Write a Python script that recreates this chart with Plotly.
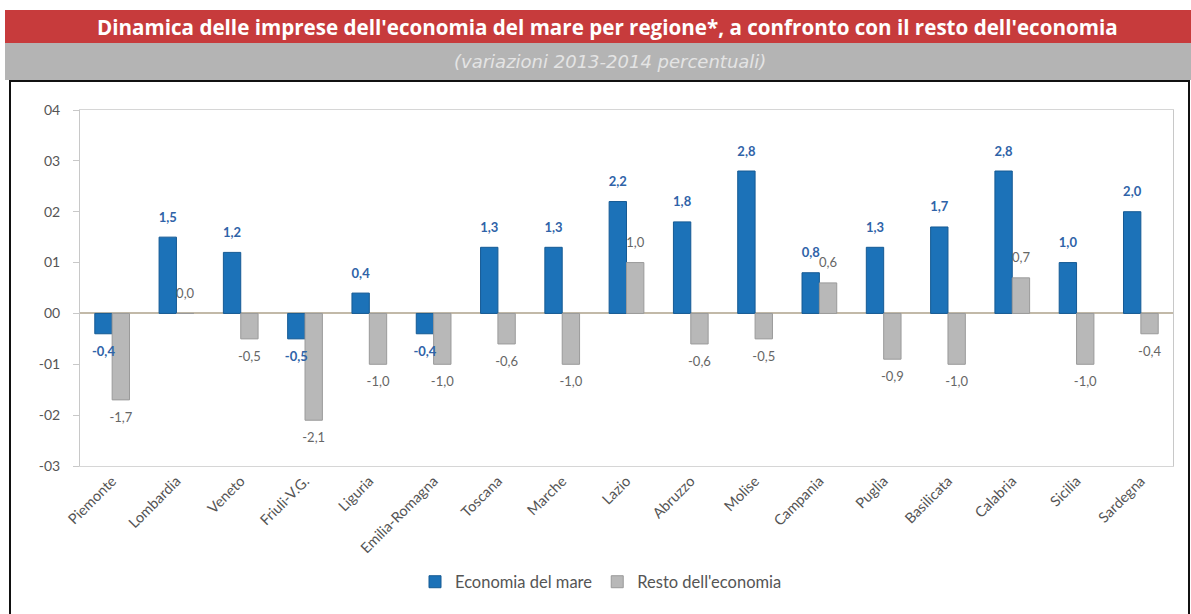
import plotly.graph_objects as go

regioni = ["Piemonte", "Lombardia", "Veneto", "Friuli-V.G.", "Liguria", "Emilia-Romagna",
           "Toscana", "Marche", "Lazio", "Abruzzo", "Molise", "Campania", "Puglia",
           "Basilicata", "Calabria", "Sicilia", "Sardegna"]
economia_mare = [-0.4, 1.5, 1.2, -0.5, 0.4, -0.4, 1.3, 1.3, 2.2, 1.8, 2.8, 0.8, 1.3, 1.7, 2.8, 1.0, 2.0]
resto_economia = [-1.7, 0.0, -0.5, -2.1, -1.0, -1.0, -0.6, -1.0, 1.0, -0.6, -0.5, 0.6, -0.9, -1.0, 0.7, -1.0, -0.4]
y_tickvals = [-3, -2, -1, 0, 1, 2, 3, 4]
y_ticktext = ["-03", "-02", "-01", "00", "01", "02", "03", "04"]


def fmt(v):
    return f"{v:.1f}".replace(".", ",")


def pos(v):
    return "bottom center" if v < 0 else "top center"


W, H = 1191, 614
L, R, T, B = 80, 18, 110, 148
pw = W - L - R
ph = H - T - B


def px_x(x):
    return (x - L) / pw


def px_y(y):
    return (H - B - y) / ph


BLUE_TXT = "#2f63a8"
GRAY_TXT = "#666666"

fig = go.Figure()
fig.add_trace(go.Bar(
    x=regioni, y=economia_mare, name="Economia del mare",
    marker=dict(color="#1c72b8", line=dict(color="#155a94", width=1)),
))
fig.add_trace(go.Bar(
    x=regioni, y=resto_economia, name="Resto dell'economia",
    marker=dict(color="#b8b8b8", line=dict(color="#9a9a9a", width=1)),
))
# data labels, grouped so they sit over their own bars
fig.add_trace(go.Scatter(
    x=regioni, y=economia_mare, mode="markers+text", showlegend=False, hoverinfo="skip",
    marker=dict(size=18, color="rgba(0,0,0,0)"),
    text=[fmt(v) for v in economia_mare], textposition=[pos(v) for v in economia_mare],
    textfont=dict(color=BLUE_TXT, size=13, family="Lato", weight="bold"),
    cliponaxis=False,
))
fig.add_trace(go.Scatter(
    x=regioni, y=resto_economia, mode="markers+text", showlegend=False, hoverinfo="skip",
    marker=dict(size=18, color="rgba(0,0,0,0)"),
    text=[fmt(v) for v in resto_economia], textposition=[pos(v) for v in resto_economia],
    textfont=dict(color=GRAY_TXT, size=13, family="Lato"),
    cliponaxis=False,
))

shapes = [
    dict(type="rect", xref="paper", yref="paper", x0=px_x(5), x1=px_x(1191), y0=px_y(43), y1=px_y(10),
         fillcolor="#c73b3c", line=dict(width=0), layer="below"),
    dict(type="rect", xref="paper", yref="paper", x0=px_x(5), x1=px_x(1191), y0=px_y(80), y1=px_y(43),
         fillcolor="#b4b4b4", line=dict(width=0), layer="below"),
    dict(type="rect", xref="paper", yref="paper", x0=px_x(10), x1=px_x(1189), y0=px_y(625), y1=px_y(81),
         fillcolor="rgba(0,0,0,0)", line=dict(color="#111111", width=2), layer="below"),
]

annotations = [
    dict(text="<b>Dinamica delle imprese dell'economia del mare per regione*, a confronto con il resto dell'economia</b>",
         xref="paper", yref="paper", x=px_x(607), y=px_y(27), showarrow=False,
         font=dict(family="Open Sans", size=20.6, color="#ffffff"), xanchor="center", yanchor="middle"),
    dict(text="<i>(variazioni 2013-2014 percentuali)</i>",
         xref="paper", yref="paper", x=px_x(610), y=px_y(62), showarrow=False,
         font=dict(family="DejaVu Sans", size=18, color="#e4e4e4"), xanchor="center", yanchor="middle"),
]

fig.update_layout(
    width=W, height=H,
    margin=dict(l=L, r=R, t=T, b=B),
    paper_bgcolor="white", plot_bgcolor="white",
    barmode="group", bargap=0.46, bargroupgap=0.0,
    scattermode="group", scattergap=0.46,
    shapes=shapes, annotations=annotations,
    font=dict(family="Lato", size=12, color="#555555"),
    legend=dict(orientation="h", x=px_x(601), y=px_y(582), xanchor="center", yanchor="middle",
                font=dict(size=16.5, color="#555555"), itemwidth=30, traceorder="normal"),
    showlegend=True,
)
fig.update_yaxes(
    range=[-3, 4], tickvals=y_tickvals, ticktext=y_ticktext,
    showgrid=False, zeroline=True, zerolinecolor="#c2b9a8", zerolinewidth=1.5,
    showline=True, linecolor="#c8c8c8", mirror=True,
    ticks="outside", ticklen=6, tickcolor="#c8c8c8", ticklabelstandoff=10,
    tickfont=dict(size=14, color="#555555"),
)
fig.update_xaxes(
    showgrid=False, showline=True, linecolor="#d6d6d6", mirror=True,
    tickangle=-45, tickfont=dict(size=14.5, color="#555555"),
)

fig.write_html("out.html")
